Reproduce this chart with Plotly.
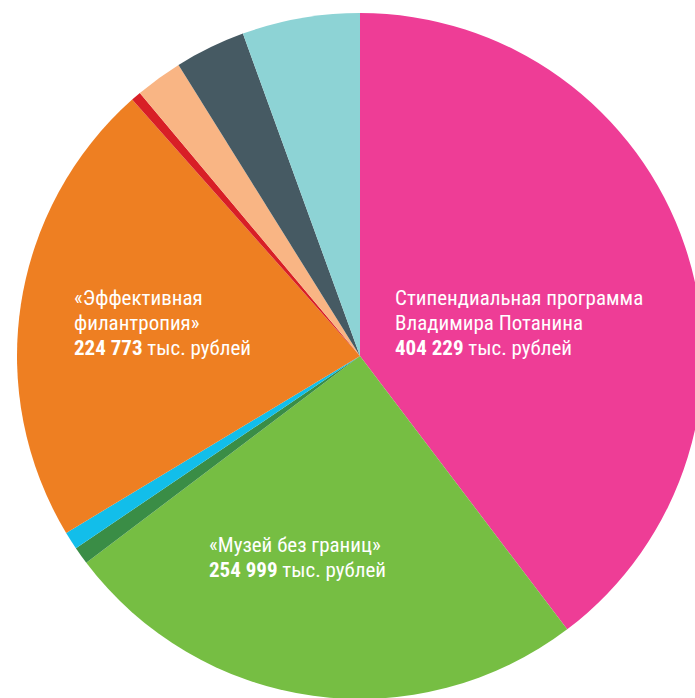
import plotly.graph_objects as go

W, H = 712, 700
OFF = 0  # body margin removed below

labels = [
    "Стипендиальная программа Владимира Потанина",
    "«Музей без границ»",
    "Прочее 1",
    "Прочее 2",
    "«Эффективная филантропия»",
    "Прочее 3",
    "Прочее 4",
    "Прочее 5",
    "Прочее 6",
]
values = [404229, 254999, 8450, 8550, 224773, 4800, 22600, 33900, 56500]
colors = ["#EE3D96", "#76BE43", "#3A8D46", "#12BEEA", "#EE7F22",
          "#D81F26", "#F9B584", "#465A63", "#8DD3D5"]

# label lines: (text, page-x of left edge, page-y of line centre)
label_lines = [
    ("Стипендиальная программа", 395, 297),
    ("Владимира Потанина", 395, 322),
    ("<b>404 229</b> тыс. рублей", 395, 347),
    ("«Эффективная", 74, 297),
    ("филантропия»", 74, 322),
    ("<b>224 773</b> тыс. рублей", 74, 347),
    ("«Музей без границ»", 209, 544),
    ("<b>254 999</b> тыс. рублей", 209, 569),
]

# pie centre / radius in page pixels
CX, CY, R = 360, 356, 343
cx, cy = CX - OFF, CY - OFF

fig = go.Figure(go.Pie(
    labels=labels,
    values=values,
    sort=False,
    direction="clockwise",
    rotation=0,
    marker=dict(colors=colors, line=dict(width=0)),
    textinfo="none",
    hoverinfo="none",
    showlegend=False,
    domain=dict(x=[(cx - R) / W, min(1.0, (cx + R) / W)],
                y=[max(0.0, 1 - (cy + R) / H), 1 - (cy - R) / H]),
))

for t, px, py in label_lines:
    fig.add_annotation(
        text=t, x=(px - OFF - 2) / W, y=1 - (py - OFF + 1) / H,
        xref="paper", yref="paper",
        xanchor="left", yanchor="middle", align="left", showarrow=False,
        font=dict(family="Roboto Condensed, Roboto, sans-serif", size=21, color="white"),
    )

fig.update_layout(
    width=W, height=H,
    margin=dict(l=0, r=0, t=0, b=0),
    paper_bgcolor="white",
    plot_bgcolor="white",
)

fig.write_html(
    "out.html",
    config={"displayModeBar": False},
    post_script=("document.body.style.margin='0';"
                 "document.body.style.overflow='hidden';"
                 "document.documentElement.style.overflow='hidden';"),
)
